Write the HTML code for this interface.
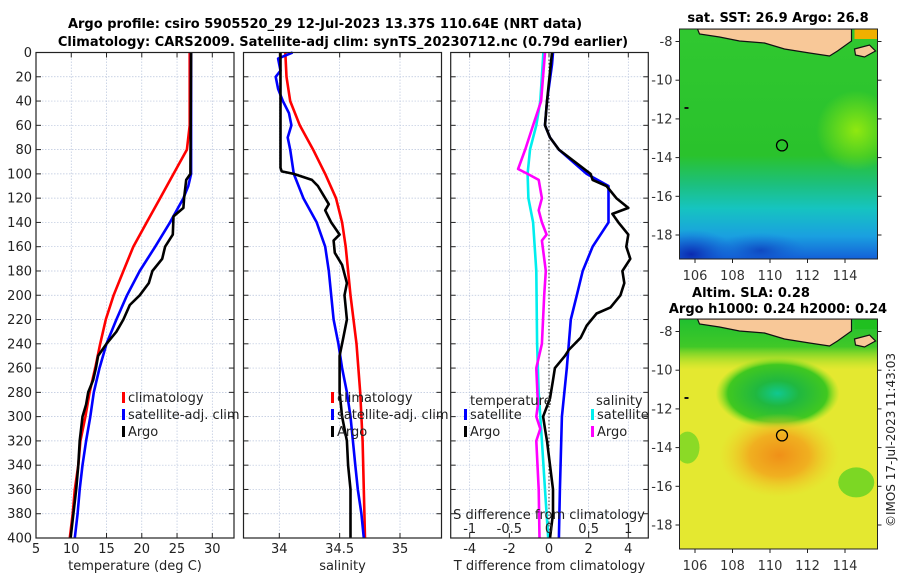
<!DOCTYPE html>
<html><head><meta charset="utf-8"><style>
html,body{margin:0;padding:0;background:#fff;}
svg{display:block;font-family:"DejaVu Sans","Liberation Sans",sans-serif;}
</style></head><body>
<svg id="fig" width="900" height="580" viewBox="0 0 900 580" xmlns="http://www.w3.org/2000/svg">
<defs>
<linearGradient id="sstGrad" x1="0" y1="0" x2="0" y2="1">
<stop offset="0" stop-color="#30c830"/><stop offset="0.55" stop-color="#2ac22c"/><stop offset="0.68" stop-color="#1cc080"/><stop offset="0.78" stop-color="#16c4c0"/><stop offset="0.9" stop-color="#1aa0e0"/><stop offset="1" stop-color="#1460d8"/></linearGradient>
<radialGradient id="sstPatch"><stop offset="0" stop-color="#90e810"/><stop offset="1" stop-color="#90e810" stop-opacity="0"/></radialGradient>
<radialGradient id="sstBlue"><stop offset="0" stop-color="#0a2ab0"/><stop offset="1" stop-color="#1460d8" stop-opacity="0"/></radialGradient>
<radialGradient id="slaGreen"><stop offset="0" stop-color="#10c890"/><stop offset="0.35" stop-color="#20b840"/><stop offset="0.8" stop-color="#40c820"/><stop offset="1" stop-color="#80e020" stop-opacity="0"/></radialGradient>
<radialGradient id="slaOrange"><stop offset="0" stop-color="#f09018"/><stop offset="0.5" stop-color="#f0b020"/><stop offset="1" stop-color="#f0d028" stop-opacity="0"/></radialGradient>
<linearGradient id="slaTop" x1="0" y1="0" x2="0" y2="1"><stop offset="0" stop-color="#20c030"/><stop offset="0.12" stop-color="#40c828"/><stop offset="0.22" stop-color="#a0e020" stop-opacity="0"/></linearGradient>
</defs>
<text x="325" y="28" text-anchor="middle" font-size="13" font-weight="bold">Argo profile: csiro 5905520_29 12-Jul-2023 13.37S 110.64E (NRT data)</text>
<text x="343" y="46" text-anchor="middle" font-size="13" font-weight="bold">Climatology: CARS2009. Satellite-adj clim: synTS_20230712.nc (0.79d earlier)</text>
<g id="plots"></g>
<g id="maps"></g>
<text x="0" y="0" transform="translate(895,440) rotate(-90)" text-anchor="middle" font-size="12" fill="#222">©IMOS 17-Jul-2023 11:43:03</text>
</svg>
<script>
// ---- data ----
const tClimDepth=[0,60,80,100,120,140,160,180,200,220,240,260,280,300,320,340,360,380,400];
const tClim=[26.8,26.8,26.4,24.5,22.6,20.7,18.8,17.4,16.0,14.9,14.1,13.4,12.6,12.0,11.3,11.0,10.5,10.2,9.8];
const tSatDepth=[0,100,110,120,140,160,180,200,220,240,260,280,300,320,340,360,380,400];
const tSat=[27.0,27.0,26.6,25.9,24.0,21.9,19.7,17.9,16.4,15.0,14.0,13.2,12.7,12.1,11.6,11.2,10.9,10.5];
const tArgoDepth=[0,100,105,120,128,135,150,160,170,180,190,200,208,220,230,240,250,260,270,280,290,300,320,340,360,380,400];
const tArgo=[27.0,26.9,26.3,26.0,25.9,24.5,24.4,23.3,22.9,21.5,21.0,19.7,18.3,17.4,16.4,15.0,13.8,13.5,13.1,12.4,12.1,11.6,11.2,11.0,10.7,10.3,9.9];
const sClimDepth=[0,20,40,60,80,100,120,140,160,200,240,280,320,360,400];
const sClim=[34.05,34.06,34.09,34.17,34.28,34.38,34.47,34.52,34.55,34.59,34.64,34.67,34.69,34.70,34.71];
const sSatDepth=[0,5,15,20,30,40,50,60,70,80,100,120,140,160,180,200,220,240,260,280,300,320,340,360,380,400];
const sSat=[34.11,33.99,34.01,33.97,33.99,34.03,34.08,34.10,34.07,34.09,34.12,34.20,34.31,34.38,34.41,34.43,34.45,34.49,34.52,34.56,34.59,34.61,34.63,34.65,34.68,34.70];
const sArgoDepth=[0,3,95,98,100,105,110,120,125,130,140,150,155,165,175,190,200,220,235,250,280,300,320,340,360,400];
const sArgo=[34.01,34.01,34.01,34.02,34.12,34.27,34.32,34.38,34.41,34.38,34.43,34.50,34.45,34.46,34.52,34.56,34.54,34.56,34.53,34.50,34.50,34.52,34.56,34.57,34.59,34.59];
const dtSatDepth=[0,10,40,60,70,80,100,110,130,140,160,180,200,220,240,260,300,360,400];
const dtSat=[0.2,0.15,-0.1,-0.2,0.05,0.5,1.9,3.0,3.0,3.0,2.2,1.7,1.4,1.1,1.0,0.9,0.65,0.55,0.5];
const dtArgoDepth=[0,40,60,70,80,100,105,110,120,128,133,140,150,160,170,180,190,200,210,215,225,235,245,250,260,270,285,300,310,320,340,360,380,400];
const dtArgo=[0.15,-0.1,-0.2,0.05,0.5,2.1,2.2,2.9,3.4,4.0,3.2,3.5,4.0,3.9,4.1,3.7,3.8,3.6,3.1,2.4,1.9,1.6,1.0,0.8,0.3,0.2,0.05,-0.3,-0.2,-0.1,0.05,0.2,0.2,0.05];
const dsSatDepth=[0,40,60,80,100,120,140,180,240,280,300,320,360,400];
const dsSat=[-0.07,-0.11,-0.16,-0.24,-0.27,-0.26,-0.2,-0.16,-0.15,-0.13,-0.11,-0.09,-0.05,-0.01];
const dsArgoDepth=[0,40,60,80,96,100,105,120,130,140,150,155,180,200,240,260,290,300,310,320,360,400];
const dsArgo=[-0.05,-0.1,-0.2,-0.3,-0.39,-0.27,-0.13,-0.09,-0.13,-0.09,-0.03,-0.09,-0.04,-0.06,-0.09,-0.16,-0.14,-0.16,-0.11,-0.16,-0.13,-0.12];
const depthTicks=[0,20,40,60,80,100,120,140,160,180,200,220,240,260,280,300,320,340,360,380,400];
const tTicks=[5,10,15,20,25,30];
const sTicks=[34,34.5,35];
const dtTicks=[-4,-2,0,2,4];
const dsTicks=[-1,-0.5,0,0.5,1];
const lonTicks=[106,108,110,112,114];
const latTicks=[-8,-10,-12,-14,-16,-18];
const argoLon=110.64, argoLat=-13.37;

const NS='http://www.w3.org/2000/svg';
function mk(tag,attrs,parent){const e=document.createElementNS(NS,tag);for(const k in attrs)e.setAttribute(k,attrs[k]);parent.appendChild(e);return e;}
const plots=document.getElementById('plots');
const Y0=52.5,Y1=538;
const yD=d=>Y0+(d/400)*(Y1-Y0);
function lin(d0,d1,p0,p1){return v=>p0+(v-d0)/(d1-d0)*(p1-p0);}

function panel(name,x0,x1,xs,xticks,fmt,xlabel,showDepth){
  const g=mk('g',{},plots);
  
  
  for(const d of depthTicks){
    const y=yD(d);
    const gl=mk('line',{x1:x0,x2:x1,y1:y,y2:y,stroke:'#b8c4dc','stroke-width':0.7,'stroke-dasharray':'1.5,1.5'},g);
    
    
    mk('line',{x1:x0,x2:x0+5,y1:y,y2:y,stroke:'#222'},g);
    mk('line',{x1:x1,x2:x1-5,y1:y,y2:y,stroke:'#222'},g);
    if(showDepth){const t=mk('text',{x:x0-4,y:y+4.5,'text-anchor':'end','font-size':13,fill:'#222'},g);t.textContent=d;
      
      }
  }
  for(const v of xticks){
    const x=xs(v);
    if(x>x0+1&&x<x1-1){const gl=mk('line',{x1:x,x2:x,y1:Y0,y2:Y1,stroke:'#b8c4dc','stroke-width':0.7,'stroke-dasharray':'1.5,1.5'},g);
      
      }
    mk('line',{x1:x,x2:x,y1:Y1,y2:Y1-5,stroke:'#222'},g);
    mk('line',{x1:x,x2:x,y1:Y0,y2:Y0+5,stroke:'#222'},g);
    const t=mk('text',{x:x,y:553,'text-anchor':'middle','font-size':13,fill:'#222'},g);t.textContent=fmt(v);
    
    
  }
  const xl=mk('text',{x:(x0+x1)/2,y:570,'text-anchor':'middle','font-size':13,fill:'#222'},g);xl.textContent=xlabel;
  
  
  return g;
}
function frame(g,x0,x1){const r=mk('rect',{x:x0,y:Y0,width:x1-x0,height:Y1-Y0,fill:'none',stroke:'#222','stroke-width':1.2},g);
  
  }
function series(g,name,xs,vals,depths,color,w){
  const pts=vals.map((v,i)=>xs(v).toFixed(1)+','+yD(depths[i]).toFixed(1)).join(' ');
  const p=mk('polyline',{points:pts,fill:'none',stroke:color,'stroke-width':w||2.6,'stroke-linejoin':'round'},g);
  
  
}
function legend(g,x,y,color,label,name){
  mk('rect',{x:x,y:y-8,width:3,height:11,fill:color},g);
  const t=mk('text',{x:x+6,y:y+2,'font-size':13,fill:'#222'},g);t.textContent=label;
  
  
}

// Panel 1: temperature
const xT=lin(5,30,36,212.3);
let g1=panel('temperature',36,234,xT,tTicks,v=>v,'temperature (deg C)',true);
series(g1,'temp-climatology-line',xT,tClim,tClimDepth,'#f00');
series(g1,'temp-satellite-line',xT,tSat,tSatDepth,'#00f');
series(g1,'temp-argo-line',xT,tArgo,tArgoDepth,'#000');
legend(g1,122,400,'#f00','climatology','legend-climatology');
legend(g1,122,417,'#00f','satellite-adj. clim','legend-satellite');
legend(g1,122,434,'#000','Argo','legend-argo');
frame(g1,36,234);

// Panel 2: salinity
const xS=lin(34,35,279.3,400);
let g2=panel('salinity',243.5,441.5,xS,sTicks,v=>v,'salinity',false);
series(g2,'sal-climatology-line',xS,sClim,sClimDepth,'#f00');
series(g2,'sal-satellite-line',xS,sSat,sSatDepth,'#00f');
series(g2,'sal-argo-line',xS,sArgo,sArgoDepth,'#000');
legend(g2,331,400,'#f00','climatology','legend-sal-climatology');
legend(g2,331,417,'#00f','satellite-adj. clim','legend-sal-satellite');
legend(g2,331,434,'#000','Argo','legend-sal-argo');
frame(g2,243.5,441.5);

// Panel 3: differences
const xdT=lin(0,4,549,628.3);
const xdS=lin(0,1,549,628.3);
let g3=panel('difference',450.7,648.3,xdT,dtTicks,v=>v,'T difference from climatology',false);
const zl=mk('line',{x1:xdT(0),x2:xdT(0),y1:Y0,y2:Y1,stroke:'#333','stroke-width':1,'stroke-dasharray':'1.5,2'},g3);


series(g3,'dsal-satellite-line',xdS,dsSat,dsSatDepth,'#00eeee');
series(g3,'dsal-argo-line',xdS,dsArgo,dsArgoDepth,'#f0f');
series(g3,'dtemp-satellite-line',xdT,dtSat,dtSatDepth,'#00f');
series(g3,'dtemp-argo-line',xdT,dtArgo,dtArgoDepth,'#000');
const lt=mk('text',{x:470,y:405,'font-size':13,fill:'#222'},g3);lt.textContent='temperature';


const ls=mk('text',{x:596,y:405,'font-size':13,fill:'#222'},g3);ls.textContent='salinity';


legend(g3,464,417,'#00f','satellite','legend-dtemp-satellite');
legend(g3,464,434,'#000','Argo','legend-dtemp-argo');
legend(g3,591,417,'#00eeee','satellite','legend-dsal-satellite');
legend(g3,591,434,'#f0f','Argo','legend-dsal-argo');
for(const v of dsTicks){const t=mk('text',{x:xdS(v),y:533,'text-anchor':'middle','font-size':13,fill:'#222'},g3);t.textContent=v;
  
  }
const sl=mk('text',{x:549,y:519,'text-anchor':'middle','font-size':13,fill:'#222'},g3);sl.textContent='S difference from climatology';


frame(g3,450.7,648.3);

// ---- maps ----
const maps=document.getElementById('maps');
function map(name,top,title1,title2,kind){
  const g=mk('g',{},maps);
  
  
  const MX0=679.5,MX1=877.5,MY0=top,MY1=top+230;
  const lonX=lin(106,114,695,845);
  const latY=lin(-8,-18,top+12.5,top+206);
  mk('clipPath',{id:'clip'+name},g).appendChild(document.createElementNS(NS,'rect'));
  const cr=g.querySelector('clipPath rect');cr.setAttribute('x',MX0);cr.setAttribute('y',MY0);cr.setAttribute('width',MX1-MX0);cr.setAttribute('height',MY1-MY0);
  const c=mk('g',{'clip-path':'url(#clip'+name+')'},g);
  if(kind==='sst'){
    mk('rect',{x:MX0,y:MY0,width:MX1-MX0,height:MY1-MY0,fill:'url(#sstGrad)'},c);
    mk('ellipse',{cx:lonX(114.6),cy:latY(-12.6),rx:40,ry:40,fill:'url(#sstPatch)'},c);
    mk('ellipse',{cx:lonX(105.8),cy:latY(-19),rx:45,ry:25,fill:'url(#sstBlue)'},c);
    mk('ellipse',{cx:lonX(109.5),cy:latY(-18.8),rx:45,ry:18,fill:'url(#sstBlue)',opacity:0.6},c);
  } else {
    mk('rect',{x:MX0,y:MY0,width:MX1-MX0,height:MY1-MY0,fill:'#e4e830'},c);
    mk('rect',{x:MX0,y:MY0,width:MX1-MX0,height:MY1-MY0,fill:'url(#slaTop)'},c);
    mk('ellipse',{cx:lonX(110.4),cy:latY(-11.2),rx:62,ry:36,fill:'url(#slaGreen)'},c);
    mk('ellipse',{cx:lonX(110.5),cy:latY(-14.4),rx:60,ry:42,fill:'url(#slaOrange)'},c);
    mk('ellipse',{cx:lonX(114.6),cy:latY(-15.8),rx:18,ry:15,fill:'#50d020',opacity:0.7},c);
    mk('ellipse',{cx:lonX(105.6),cy:latY(-14),rx:12,ry:16,fill:'#50d020',opacity:0.6},c);
  }
  // Java & Bali land
  const land='M'+(MX0+18)+','+MY0+' L'+(MX0+20)+','+(MY0+5)+' L'+(MX0+40)+','+(MY0+8)+' L'+(MX0+60)+','+(MY0+12)+' L'+(MX0+85)+','+(MY0+14)+' L'+(MX0+105)+','+(MY0+20)+' L'+(MX0+130)+','+(MY0+24)+' L'+(MX0+150)+','+(MY0+27)+' L'+(MX0+158)+','+(MY0+22)+' L'+(MX0+172)+','+(MY0+12)+' L'+(MX0+172)+','+MY0+' Z';
  const lp=mk('path',{d:land,fill:'#f8c898',stroke:'#111','stroke-width':1.2},c);
  
  
  mk('path',{d:'M'+(MX0+175)+','+(MY0+20)+' L'+(MX0+190)+','+(MY0+16)+' L'+(MX0+196)+','+(MY0+22)+' L'+(MX0+185)+','+(MY0+28)+' L'+(MX0+176)+','+(MY0+26)+' Z',fill:'#f8c898',stroke:'#111','stroke-width':1.2},c);
  mk('rect',{x:MX0+175,y:MY0,width:23,height:10,fill:kind==='sst'?'#f0b000':'#20c020'},c);
  mk('rect',{x:MX0+5,y:MY0+78,width:4,height:2,fill:'#111'},c);
  const circ=mk('circle',{cx:lonX(argoLon),cy:latY(argoLat),r:5.5,fill:'none',stroke:'#000','stroke-width':1.3},g);
  
  
  mk('rect',{x:MX0,y:MY0,width:MX1-MX0,height:MY1-MY0,fill:'none',stroke:'#222','stroke-width':1},g);
  for(const la of latTicks){const y=latY(la);
    mk('line',{x1:MX0-4,x2:MX0,y1:y,y2:y,stroke:'#222'},g);
    mk('line',{x1:MX1,x2:MX1+4,y1:y,y2:y,stroke:'#222'},g);
    const t=mk('text',{x:MX0-7,y:y+4.5,'text-anchor':'end','font-size':13,fill:'#333'},g);t.textContent=la;
    
    }
  for(const lo of lonTicks){const x=lonX(lo);
    mk('line',{x1:x,x2:x,y1:MY1,y2:MY1+4,stroke:'#222'},g);
    const t=mk('text',{x:x,y:MY1+21,'text-anchor':'middle','font-size':13,fill:'#333'},g);t.textContent=lo;
    
    }
  const t1=mk('text',{x:title2?751:778,y:title2?top-22:top-7,'text-anchor':'middle','font-size':13,'font-weight':'bold'},g);t1.textContent=title1;
  
  
  if(title2){const t2=mk('text',{x:778,y:top-6,'text-anchor':'middle','font-size':13,'font-weight':'bold'},g);t2.textContent=title2;
    
    }
}
map('sst-map',29,'sat. SST: 26.9 Argo: 26.8',null,'sst');
map('sla-map',319,'Altim. SLA: 0.28','Argo h1000: 0.24 h2000: 0.24','sla');
</script>
</body></html>
